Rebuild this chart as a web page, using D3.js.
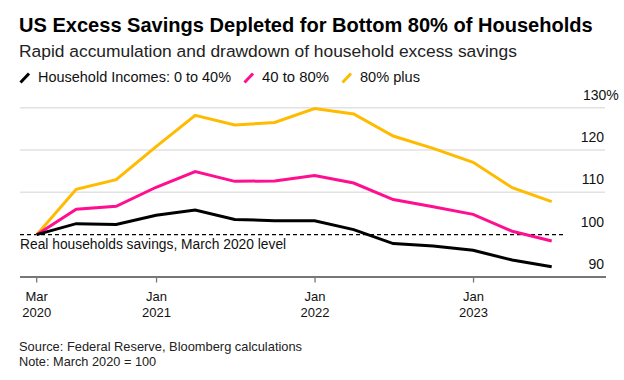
<!DOCTYPE html>
<html>
<head>
<meta charset="utf-8">
<script src="https://cdn.jsdelivr.net/npm/d3@7"></script>
<style>
  html, body { margin: 0; padding: 0; background: #fff; }
  svg { display: block; font-family: "Liberation Sans", Arial, sans-serif; }
</style>
</head>
<body>
<svg id="chart" width="624" height="380"></svg>
<script>
// Quarter-end dates
const dates = ["2020-03-31","2020-06-30","2020-09-30","2020-12-31",
               "2021-03-31","2021-06-30","2021-09-30","2021-12-31",
               "2022-03-31","2022-06-30","2022-09-30","2022-12-31",
               "2023-03-31","2023-06-30"];
const seriesNames = ["Household Incomes: 0 to 40%", "40 to 80%", "80% plus"];
const low = [100, 102.6, 102.4, 104.6, 105.8, 103.6, 103.3, 103.3, 101.2, 97.9, 97.3, 96.3, 94.0, 92.4];
const mid = [100, 106.0, 106.7, 111.2, 114.9, 112.6, 112.7, 114.0, 112.2, 108.3, 106.6, 104.8, 100.8, 98.5];
const high = [100, 110.7, 113.0, 120.8, 128.2, 125.9, 126.5, 129.8, 128.5, 123.3, 120.4, 117.1, 111.1, 107.8];
const colors = ["#000000", "#ff0f8f", "#ffbb00"];
const yTicks = [90, 100, 110, 120, 130];
const xTickDates = ["2020-03-31", "2021-01-01", "2022-01-01", "2023-01-01"];
const xTickLabels = [["Mar","2020"], ["Jan","2021"], ["Jan","2022"], ["Jan","2023"]];

const parse = d3.utcParse("%Y-%m-%d");
const svg = d3.select("#chart");

function fit(sel, width) {
  const n = sel.node();
  const fs = parseFloat(sel.attr("font-size"));
  const w = n.getComputedTextLength();
  if (w > 0) sel.attr("font-size", (fs * width / w).toFixed(2));
  return sel;
}

const x = d3.scaleUtc()
  .domain([parse(dates[0]), parse(dates[dates.length - 1])])
  .range([36.7, 551.7]);
const y = d3.scaleLinear().domain([90, 130]).range([277, 107.7]);

// Titles
fit(svg.append("text").attr("x", 19).attr("y", 31.5)
  .attr("font-size", 18.6).attr("font-weight", "bold").attr("fill", "#000")
  .text("US Excess Savings Depleted for Bottom 80% of Households"), 574);
fit(svg.append("text").attr("x", 19).attr("y", 56.5)
  .attr("font-size", 17).attr("fill", "#222")
  .text("Rapid accumulation and drawdown of household excess savings"), 498);

// Legend
const legendX = [20, 244, 342];
const legendW = [193, 67, 60];
seriesNames.forEach((n, i) => {
  const g = svg.append("g").attr("transform", `translate(${legendX[i]},0)`);
  g.append("line").attr("x1", 0.5).attr("y1", 82.5).attr("x2", 9).attr("y2", 73.5)
    .attr("stroke", colors[i]).attr("stroke-width", 3).attr("stroke-linecap", "butt");
  fit(g.append("text").attr("x", 18).attr("y", 82).attr("font-size", 14.4).attr("fill", "#111")
    .text(n), legendW[i]);
});

// Gridlines
svg.append("g").selectAll("line").data(yTicks.filter(t => t !== 90 && t !== 100)).join("line")
  .attr("x1", 20).attr("x2", 605)
  .attr("y1", d => y(d)).attr("y2", d => y(d))
  .attr("stroke", "#e2e2e2").attr("stroke-width", 1.5);

// Y labels
const yl = svg.append("g").selectAll("text").data(yTicks).join("text")
  .attr("x", 604).attr("y", d => y(d) - 8)
  .attr("text-anchor", "end").attr("font-size", 14).attr("fill", "#111")
  .text(d => d);
yl.filter(d => d === 130).append("tspan").text("%");
yl.filter(d => d === 130).attr("text-anchor", "start").attr("x", 583);

// Reference dashed line at 100
svg.append("line").attr("x1", 20).attr("x2", 566)
  .attr("y1", y(100)).attr("y2", y(100))
  .attr("stroke", "#000").attr("stroke-width", 1.3).attr("stroke-dasharray", "4,3");
fit(svg.append("text").attr("x", 20).attr("y", 248.5).attr("font-size", 13.4).attr("fill", "#111")
  .text("Real households savings, March 2020 level"), 266);

// Lines
const line = d3.line().x((d, i) => x(parse(dates[i]))).y(d => y(d));
[high, mid, low].forEach((s, k) => {
  const i = 2 - k;
  svg.append("path").datum(s).attr("d", line)
    .attr("fill", "none").attr("stroke", colors[i]).attr("stroke-width", 3)
    .attr("stroke-linejoin", "miter");
});

// X axis
svg.append("line").attr("x1", 20).attr("x2", 606).attr("y1", 277).attr("y2", 277)
  .attr("stroke", "#777").attr("stroke-width", 2);
const xt = svg.append("g").selectAll("g").data(xTickDates).join("g")
  .attr("transform", d => `translate(${x(parse(d))},0)`);
xt.append("line").attr("y1", 277).attr("y2", 282.5).attr("stroke", "#777").attr("stroke-width", 1.3);
xt.append("text").attr("text-anchor", "middle").attr("y", 300.7).attr("font-size", 13).attr("fill", "#111")
  .text((d, i) => xTickLabels[i][0]);
xt.append("text").attr("text-anchor", "middle").attr("y", 317.3).attr("font-size", 13).attr("fill", "#111")
  .text((d, i) => xTickLabels[i][1]);

// Footer
fit(svg.append("text").attr("x", 19).attr("y", 350.5).attr("font-size", 12.2).attr("fill", "#222")
  .text("Source: Federal Reserve, Bloomberg calculations"), 283);
fit(svg.append("text").attr("x", 19).attr("y", 365.5).attr("font-size", 12.2).attr("fill", "#222")
  .text("Note: March 2020 = 100"), 137);
</script>
</body>
</html>
